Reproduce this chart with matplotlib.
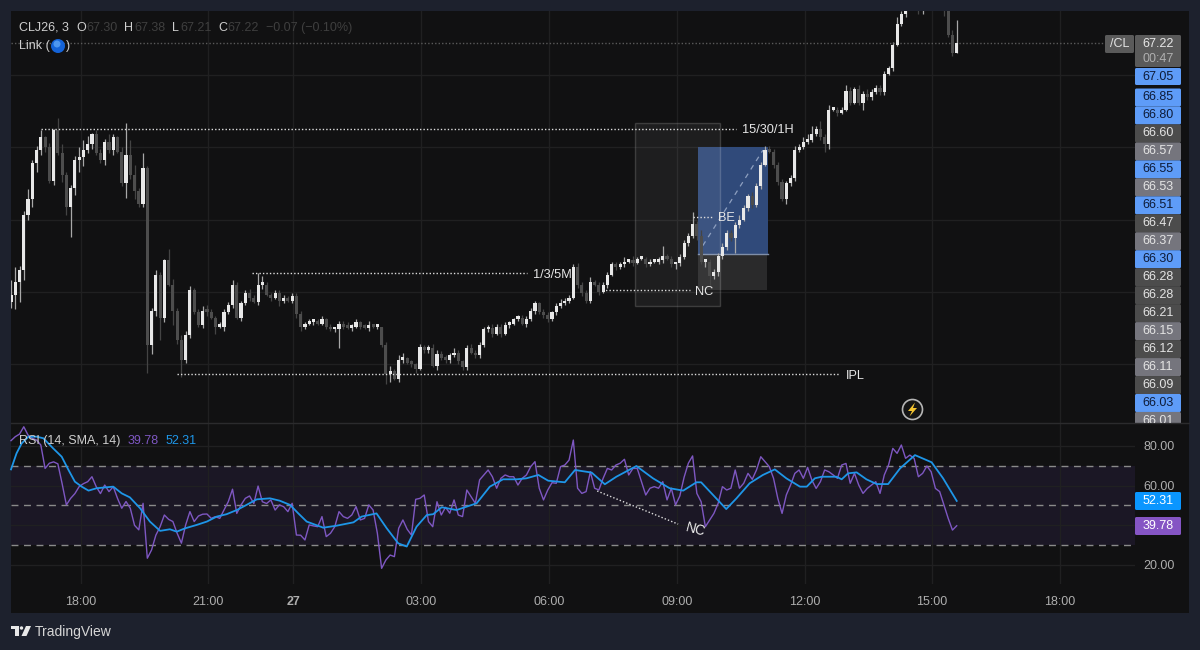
import numpy as np
import matplotlib
matplotlib.use('Agg')
import matplotlib.pyplot as plt
from matplotlib.patches import Rectangle, FancyBboxPatch, Circle, Polygon

plt.rcParams['font.family'] = ['Liberation Sans', 'DejaVu Sans']

# 6 minute steps
closes = [
    65.48, 65.57, 65.65, 66.03, 66.14, 66.39, 66.48, 66.57, 66.50, 66.27,
    66.62, 66.46, 66.31, 66.09, 66.22, 66.41, 66.43, 66.48, 66.52, 66.59,
    66.46, 66.41, 66.54, 66.48, 66.57, 66.47, 66.25, 66.45, 66.31, 66.20,
    66.11, 66.36, 65.13, 65.37, 65.62, 65.32, 65.72, 65.55, 65.37, 65.17,
    65.03, 65.20, 65.51, 65.36, 65.27, 65.37, 65.36, 65.32, 65.26, 65.26,
    65.36, 65.41, 65.55, 65.32, 65.42, 65.49, 65.46, 65.43, 65.55, 65.55,
    65.48, 65.46, 65.49, 65.44, 65.46, 65.44, 65.47, 65.35, 65.26, 65.28,
    65.29, 65.29, 65.28, 65.31, 65.26, 65.24, 65.24, 65.28, 65.26, 65.25,
    65.26, 65.29, 65.26, 65.25, 65.27, 65.26, 65.26, 65.13, 64.93, 64.95,
    64.90, 65.03, 65.04, 65.01, 65.00, 64.97, 65.12, 65.10, 65.11, 64.99,
    65.07, 65.04, 65.03, 65.06, 65.08, 65.02, 64.98, 65.11, 65.08, 65.06,
    65.13, 65.24, 65.25, 65.21, 65.26, 65.21, 65.27, 65.28, 65.31, 65.32,
    65.28, 65.31, 65.37, 65.42, 65.36, 65.34, 65.31, 65.36, 65.40, 65.42,
    65.44, 65.46, 65.67, 65.55, 65.49, 65.44, 65.57, 65.55, 65.50, 65.55,
    65.62, 65.69, 65.67, 65.69, 65.71, 65.71, 65.70, 65.73, 65.73, 65.69,
    65.71, 65.71, 65.72, 65.75, 65.73, 65.69, 65.70, 65.74, 65.84, 65.89,
    65.97, 65.89, 65.71, 65.71, 65.61, 65.64, 65.75, 65.81, 65.91, 65.87,
    65.96, 66.00, 66.08, 66.16, 66.10, 66.23, 66.38, 66.48, 66.47, 66.38,
    66.26, 66.14, 66.25, 66.29, 66.48, 66.50, 66.54, 66.55, 66.59, 66.63,
    66.57, 66.52, 66.76, 66.76, 66.74, 66.76, 66.89, 66.81, 66.90, 66.81,
    66.87, 66.85, 66.88, 66.91, 66.88, 67.01, 67.05, 67.21, 67.35, 67.42,
    67.50, 67.54, 67.50, 67.44, 67.50, 67.53, 67.55, 67.52, 67.50, 67.44,
    67.28, 67.15, 67.22,
]
# wick lengths in cents beyond the body
wick_up = [
    10, 10, 3, 3, 7, 2, 3, 5, 1, 3,
    1, 8, 6, 2, 2, 3, 7, 7, 6, 1,
    3, 3, 2, 5, 2, 1, 3, 22, 10, 7,
    2, 10, 1, 2, 3, 2, 1, 8, 4, 2,
    3, 3, 3, 2, 2, 3, 4, 2, 1, 3,
    2, 2, 3, 2, 2, 2, 3, 2, 8, 6,
    2, 1, 2, 2, 2, 1, 2, 2, 2, 1,
    2, 1, 2, 2, 1, 2, 1, 2, 2, 3,
    2, 2, 1, 2, 3, 1, 2, 0, 2, 4,
    2, 3, 4, 1, 2, 1, 2, 1, 2, 3,
    3, 2, 2, 2, 3, 2, 1, 2, 3, 2,
    2, 2, 2, 3, 2, 2, 2, 2, 1, 2,
    2, 2, 2, 2, 1, 2, 2, 1, 2, 3,
    2, 2, 2, 3, 2, 2, 3, 1, 2, 2,
    2, 2, 2, 2, 3, 2, 4, 1, 2, 1,
    2, 2, 2, 7, 1, 2, 1, 2, 2, 2,
    8, 2, 4, 2, 2, 2, 2, 3, 2, 2,
    2, 3, 2, 2, 3, 2, 2, 3, 3, 2,
    2, 2, 2, 2, 3, 2, 3, 4, 6, 2,
    5, 2, 3, 1, 2, 2, 4, 3, 2, 3,
    2, 3, 2, 2, 2, 2, 1, 2, 5, 2,
    2, 2, 2, 2, 2, 2, 2, 2, 2, 2,
    5, 3, 16,
]
wick_dn = [
    4, 10, 14, 7, 3, 5, 6, 3, 3, 2,
    3, 1, 5, 6, 21, 5, 8, 6, 2, 3,
    1, 2, 3, 2, 3, 1, 2, 10, 3, 6,
    2, 2, 19, 6, 4, 15, 3, 1, 10, 3,
    12, 2, 2, 1, 1, 2, 3, 1, 5, 1,
    3, 1, 2, 1, 2, 1, 2, 1, 2, 3,
    1, 2, 1, 4, 2, 1, 2, 3, 3, 2,
    1, 2, 1, 1, 2, 1, 2, 13, 2, 1,
    2, 1, 2, 1, 2, 1, 2, 1, 7, 5,
    1, 2, 2, 1, 2, 3, 1, 2, 2, 1,
    3, 1, 2, 2, 1, 2, 2, 2, 1, 2,
    2, 1, 2, 2, 1, 2, 1, 2, 1, 1,
    1, 2, 1, 2, 1, 2, 2, 1, 2, 1,
    1, 2, 1, 2, 2, 2, 2, 1, 2, 1,
    2, 1, 2, 1, 2, 1, 2, 1, 1, 2,
    1, 1, 2, 2, 1, 2, 3, 2, 1, 2,
    2, 3, 2, 4, 6, 2, 3, 2, 2, 2,
    10, 2, 1, 2, 2, 1, 2, 1, 1, 2,
    2, 1, 3, 2, 2, 1, 1, 2, 1, 1,
    2, 5, 3, 1, 2, 1, 1, 2, 1, 2,
    5, 2, 2, 1, 2, 2, 1, 2, 1, 1,
    2, 2, 2, 2, 2, 2, 2, 2, 2, 3,
    2, 2, 0,
]
rsi = [
    82.7, 84.7, 86.0, 89.7, 85.5, 83.9, 83.0, 80.5, 68.7, 71.3,
    72.0, 71.0, 61.0, 50.3, 53.6, 56.0, 59.5, 61.0, 62.0, 64.5,
    59.5, 56.0, 60.3, 57.0, 59.5, 53.6, 48.6, 52.0, 48.6, 40.0,
    37.7, 51.1, 23.4, 27.6, 35.0, 39.3, 45.2, 43.0, 41.9, 36.0,
    31.0, 40.2, 46.9, 41.9, 44.7, 45.6, 45.7, 43.5, 44.4, 43.5,
    47.7, 51.9, 58.2, 46.0, 50.3, 53.6, 54.8, 51.0, 59.8, 51.9,
    51.0, 52.8, 47.7, 50.3, 49.4, 46.9, 51.1, 35.1, 35.0, 32.6,
    40.2, 39.7, 39.3, 44.4, 34.3, 36.0, 39.3, 46.9, 44.4, 43.5,
    45.2, 49.4, 42.7, 43.5, 50.3, 47.7, 36.0, 18.3, 22.5, 25.0,
    24.2, 38.5, 42.7, 38.0, 35.1, 53.1, 53.6, 55.3, 41.9, 39.3,
    51.9, 45.2, 49.1, 46.1, 52.8, 45.2, 44.4, 57.8, 54.5, 51.1,
    62.9, 65.4, 67.9, 64.5, 58.7, 63.7, 65.4, 64.5, 64.5, 60.3,
    63.7, 65.4, 69.6, 72.1, 58.7, 52.8, 57.8, 61.5, 61.2, 69.6,
    70.4, 72.9, 83.0, 58.7, 56.1, 57.0, 67.0, 58.7, 57.8, 63.7,
    68.7, 67.9, 70.4, 71.3, 73.3, 65.4, 68.7, 68.7, 62.0, 55.3,
    58.7, 59.5, 58.7, 62.0, 52.8, 58.7, 50.3, 54.8, 64.2, 71.3,
    75.0, 56.1, 51.9, 39.3, 42.7, 46.0, 51.1, 59.5, 57.8, 58.7,
    67.9, 58.7, 61.2, 66.2, 63.2, 67.9, 74.6, 72.1, 69.6, 63.7,
    53.6, 46.0, 55.3, 60.3, 66.2, 67.9, 63.7, 69.2, 62.8, 58.6,
    62.0, 67.9, 67.0, 65.4, 63.7, 70.4, 71.2, 61.2, 66.2, 60.3,
    56.1, 58.6, 60.3, 62.0, 56.1, 65.4, 70.4, 78.8, 76.3, 80.5,
    73.8, 75.4, 73.8, 64.5, 66.2, 69.9, 67.0, 58.6, 57.0, 50.2,
    43.5, 37.6, 39.78,
]
sma_bars = [
    0, 1.3, 2.5, 4.1, 6, 7.6, 9.9, 11.9, 13.5, 15, 16.6, 18.2, 20.1, 24, 26,
    27.9, 30.3, 32.6, 35, 37.3, 38.9, 40.9, 43.6, 46, 48.3, 50.6, 53, 55.3,
    57.7, 60.8, 63.1, 65.5, 67.4, 69.4, 73.3, 76.4, 80.4, 82.3, 85.8, 88.2,
    90.9, 92.9, 95.2, 97.6, 99.1, 101.1, 104.6, 109.3, 112.4, 115.5, 118.7,
    121, 123.8, 126.1, 130, 132.4, 136.3, 139.4, 142.1, 146.8, 150.7, 154.6,
    157.8, 160.9, 162, 164.8, 167.9, 170.3, 173.4, 176.5, 179.3, 182, 185.2,
    186.8, 188.7, 190.3, 193.8, 195, 196.5, 198.5, 200.8, 203.2, 205.9,
    208.7, 212.2, 216.1, 218.8, 222,
]
sma_values = [
    68.2, 76.3, 81.3, 84.7, 84.7, 83.9, 78.8, 74.6, 67.9, 62.0, 59.5, 57.5,
    58.7, 59.5, 56.1, 54.1, 48.6, 41.9, 37.2, 38.0, 36.8, 38.5, 40.2, 41.9,
    44.4, 45.6, 47.7, 50.3, 53.1, 53.6, 52.4, 50.3, 46.1, 41.9, 38.8, 39.8,
    41.5, 44.4, 46.0, 38.5, 30.9, 29.3, 39.3, 45.2, 45.6, 49.1, 47.7, 51.1,
    59.5, 63.2, 63.2, 63.7, 65.4, 62.5, 61.7, 67.9, 66.6, 60.7, 64.5, 69.9,
    63.7, 58.7, 57.5, 61.7, 61.7, 55.3, 48.2, 53.6, 61.2, 65.4, 68.2, 63.7,
    59.5, 59.5, 63.7, 64.5, 64.5, 63.2, 66.2, 66.7, 63.2, 60.8, 60.8, 68.7,
    75.4, 71.8, 63.7, 52.31,
]

time_ticks = [16.4, 46.3, 66.3, 96.3, 126.3, 156.3, 186.3, 216.2, 246.2]
time_labels = ['18:00', '21:00', '27', '03:00', '06:00', '09:00', '12:00', '15:00', '18:00']
price_grid = [65.0, 65.5, 66.0, 66.5, 67.0]
rsi_grid = [20, 40, 60, 80]

level_names = ['15/30/1H', '1/3/5M', 'NC', 'BE', 'IPL']
level_prices = [66.63, 65.63, 65.51, 66.02, 64.93]
level_start = [7.0, 56.6, 138.7, 160.0, 39.0]
level_end = [170.2, 121.1, 159.4, 164.6, 194.6]

scale_labels = ['67.05', '66.85', '66.80', '66.60', '66.57', '66.55', '66.53', '66.51',
                '66.47', '66.37', '66.30', '66.28', '66.28', '66.21', '66.15', '66.12',
                '66.11', '66.09', '66.03', '66.01']
scale_kinds = ['b', 'b', 'b', 'd', 'l', 'b', 'l', 'b', 'd', 'l', 'b', 'd', 'd', 'd', 'l',
               'd', 'l', 'd', 'b', 'l']
kind_face = {'b': '#5e9cf8', 'd': '#4c4c4c', 'l': '#75757d'}
kind_text = {'b': '#0e1c38', 'd': '#e4e4e4', 'l': '#e4e4e4'}

BG = '#1d212d'
PANE = '#111112'
GRID = '#202021'
TEXT = '#cfcfcf'
DIM = '#3f3f3f'

fig = plt.figure(figsize=(12, 6.5), dpi=100, facecolor=BG)


def pane_axes(left, top, right, bottom):
    return fig.add_axes([left / 1200, 1 - bottom / 650, (right - left) / 1200, (bottom - top) / 650])


back = fig.add_axes([0, 0, 1, 1])
back.set_xlim(0, 1200)
back.set_ylim(650, 0)
back.axis('off')
back.add_patch(Rectangle((11, 11), 1178, 602, fc=PANE, ec='none'))

ax = pane_axes(11, 11, 1135, 423)
ax_rsi = pane_axes(11, 423, 1135, 584)
for a in (ax, ax_rsi):
    a.patch.set_alpha(0)
    a.set_xlim(0, 263.85)
    for s in a.spines.values():
        s.set_visible(False)
    a.set_xticks(time_ticks)
    a.grid(axis='x', color=GRID, lw=1)
    a.set_axisbelow(True)

# candles
bars = np.arange(len(closes))
closes = np.array(closes)
opens = np.r_[closes[0] - 0.05, closes[:-1]]
tops = np.maximum(opens, closes)
bots = np.minimum(opens, closes)
highs = tops + np.array(wick_up) / 100
lows = bots - np.array(wick_dn) / 100
up = closes >= opens

ax.set_ylim(64.593, 67.443)
ax.set_yticks(price_grid)
ax.grid(axis='y', color=GRID, lw=1)
ax.tick_params(length=0, labelbottom=False, labelleft=False)

# drawn boxes
ax.add_patch(Rectangle((161.3, 65.51), 16.2, 0.25, fc='#2a2a2b', ec='none', zorder=1))
ax.add_patch(Rectangle((161.3, 65.76), 16.4, 0.74, fc='#304a7a', ec='none', zorder=1))
ax.plot([161.3, 177.7], [65.76, 65.76], color='#7f8ea8', lw=1, zorder=1.2)
ax.add_patch(Rectangle((146.5, 65.40), 19.9, 1.27, fc=(1, 1, 1, 0.06), ec=(1, 1, 1, 0.16), lw=1, zorder=1.5))
ax.plot([162.4, 176.5], [65.82, 66.48], color='#8ea0c0', lw=0.9, ls=(0, (4, 4)), zorder=1.6)

ax.vlines(bars[up], lows[up], highs[up], color='#a8a8a8', lw=0.9, zorder=2)
ax.vlines(bars[~up], lows[~up], highs[~up], color='#444444', lw=0.9, zorder=2)
ax.bar(bars[~up], np.maximum(tops - bots, 0.02)[~up], bottom=bots[~up], width=0.74, color='#4d4d4d', zorder=3)
ax.bar(bars[up], np.maximum(tops - bots, 0.02)[up], bottom=bots[up], width=0.74, color='#e8e8e8', zorder=3)

ax.hlines(67.22, 0, 256.8, color='#5a5a5a', lw=1, ls=(0, (1, 1.5)), zorder=2)
label_offset = [1.4, 1.4, 1.2, 1.3, 1.4]
for name, price, start, end, off in zip(level_names, level_prices, level_start, level_end, label_offset):
    ax.hlines(price, start, end, color='#dddddd', lw=1, ls=(0, (1, 1.5)), zorder=4)
    ax.text(end + off, price, name, color='#e6e6e6', fontsize=9.2, va='center_baseline', ha='left', zorder=5)

# rsi pane
ax_rsi.set_ylim(10.4, 91.6)
ax_rsi.axhspan(30, 70, color='#1b1725', lw=0, zorder=0)
ax_rsi.set_yticks(rsi_grid)
ax_rsi.grid(axis='y', color=GRID, lw=1)
for lvl in (30, 50, 70):
    ax_rsi.axhline(lvl, color='#8a8a8a', lw=1, ls=(0, (5, 4)), zorder=1)
ax_rsi.plot(bars, rsi, color='#7e57c2', lw=1.0, zorder=2, clip_on=False)
ax_rsi.plot(sma_bars, sma_values, color='#1e96e8', lw=1.3, zorder=3, clip_on=False)
ax_rsi.plot([137.6, 156.6], [57.3, 40.6], color='#dddddd', lw=1, ls=(0, (1, 1.5)), zorder=4)
ax_rsi.text(160.6, 37.8, 'NC', color='#ededed', fontsize=10, rotation=-15, ha='center', va='center', zorder=5)
ax_rsi.yaxis.tick_right()
ax_rsi.set_yticklabels(['%.2f' % v for v in rsi_grid])
ax_rsi.set_xticklabels(time_labels)
ax_rsi.tick_params(length=0, colors='#aeaeae', labelsize=9)
ax_rsi.tick_params(axis='y', pad=6)
ax_rsi.tick_params(axis='x', pad=8.5)
ax_rsi.get_xticklabels()[2].set_fontweight('bold')

# overlay in pixels: legends, price labels, logo
ov = fig.add_axes([0, 0, 1, 1])
ov.patch.set_alpha(0)
ov.set_xlim(0, 1200)
ov.set_ylim(650, 0)
ov.axis('off')

ov.plot([11, 1189], [423, 423], color='#2b2b2d', lw=1)


def box(x, y, w, h, face, clip=None):
    p = FancyBboxPatch((x + 1.5, y + 1.5), w - 3, h - 3, boxstyle='round,pad=1.5', fc=face, ec='none')
    ov.add_patch(p)
    if clip is not None:
        p.set_clip_path(clip)


header = [(19, 'CLJ26, 3', TEXT), (76, 'O', TEXT), (86, '67.30', DIM), (124, 'H', TEXT), (134, '67.38', DIM),
          (172, 'L', TEXT), (180, '67.21', DIM), (218, 'C', TEXT), (227, '67.22', DIM),
          (266, '\u22120.07 (\u22120.10%)', DIM)]
for x, s, c in header:
    ov.text(x, 28, s, color=c, fontsize=9, va='center')
ov.text(19, 46, 'Link (', color=TEXT, fontsize=9, va='center')
ov.add_patch(Circle((58, 46), 7, fc='#1463d8', ec='none'))
ov.add_patch(Circle((57, 44), 3.5, fc='#4d97f0', ec='none'))
ov.text(66, 46, ')', color=TEXT, fontsize=9, va='center')

ov.text(19, 441, 'RSI (14, SMA, 14)', color=TEXT, fontsize=9, va='center')
ov.text(128, 441, '39.78', color='#7e57c2', fontsize=9, va='center')
ov.text(166, 441, '52.31', color='#1e96e8', fontsize=9, va='center')

clip_rect = Rectangle((1135, 11), 54, 412, transform=ov.transData)
box(1105, 35, 29, 18, '#5a5a5a')
ov.text(1119.5, 44, '/CL', color='#e4e4e4', fontsize=9, ha='center', va='center')
box(1135, 35, 46, 32, '#5a5a5a')
ov.text(1158, 44, '67.22', color='#e8e8e8', fontsize=9, ha='center', va='center')
ov.text(1158, 59, '00:47', color='#b0b0b0', fontsize=9, ha='center', va='center')
box(1135, 68, 46, 17, kind_face['b'])
ov.text(1158, 77, scale_labels[0], color=kind_text['b'], fontsize=9, ha='center', va='center')
for i, (s, k) in enumerate(zip(scale_labels[1:], scale_kinds[1:])):
    yc = 97.5 + i * 17.97
    box(1135, yc - 9, 46, 18, kind_face[k], clip=clip_rect)
    t = ov.text(1158, yc, s, color=kind_text[k], fontsize=9, ha='center', va='center', clip_on=True)
    t.set_clip_path(clip_rect)

box(1135, 492, 46, 18, '#0a96ff')
ov.text(1158, 501, '52.31', color='white', fontsize=9, ha='center', va='center')
box(1135, 517, 46, 18, '#8555c4')
ov.text(1158, 526, '39.78', color='white', fontsize=9, ha='center', va='center')

# bolt marker
ov.add_patch(Circle((912.5, 409.5), 10, fc='#141414', ec='#b5b5b5', lw=1.2))
ov.add_patch(Polygon([(915, 402.5), (908, 411), (912, 411), (909.5, 416.5), (917, 408), (913, 408)], fc='#f4c430', ec='none'))

# logo
ov.add_patch(Polygon([(11, 626), (18.5, 626), (18.5, 636), (15, 636), (15, 629), (11, 629)], fc='#e8e8e8', ec='none'))
ov.add_patch(Circle((21.5, 628), 1.7, fc='#e8e8e8', ec='none'))
ov.add_patch(Polygon([(26, 626), (31, 626), (26.5, 636), (21.5, 636)], fc='#e8e8e8', ec='none'))
ov.text(35, 632, 'TradingView', color='#d6d6d6', fontsize=10, va='center')

fig.savefig('out.png', dpi=100, facecolor=BG)
